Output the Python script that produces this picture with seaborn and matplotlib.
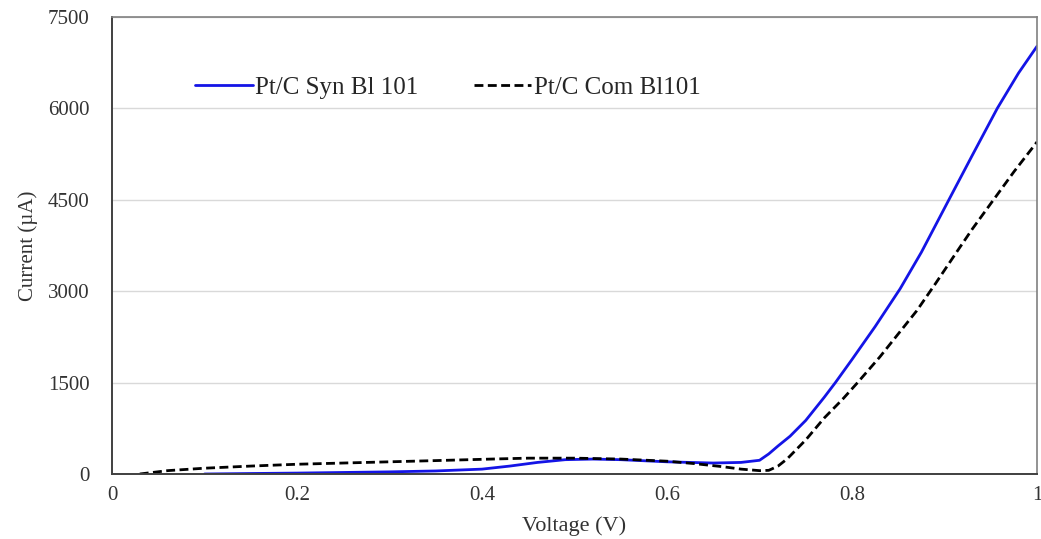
import numpy as np
import pandas as pd
import matplotlib
matplotlib.use("Agg")
import matplotlib.pyplot as plt
import seaborn as sns

# ---- data ----
syn_voltage = [0.10, 0.15, 0.20, 0.25, 0.30, 0.35, 0.40, 0.43, 0.46, 0.49, 0.52, 0.55,
               0.60, 0.65, 0.68, 0.70, 0.71, 0.72, 0.733, 0.75, 0.77, 0.782, 0.80,
               0.825, 0.852, 0.875, 0.904, 0.93, 0.957, 0.98, 1.00]
syn_current = [0, 8, 15, 25, 35, 50, 80, 130, 190, 235, 245, 235,
               200, 180, 190, 225, 330, 460, 620, 880, 1260, 1500, 1880,
               2420, 3040, 3640, 4480, 5230, 6000, 6580, 7020]

com_voltage = [0.03, 0.06, 0.10, 0.15, 0.20, 0.275, 0.35, 0.41, 0.45, 0.50, 0.55,
               0.60, 0.63, 0.66, 0.68, 0.70, 0.71, 0.72, 0.73, 0.75, 0.77, 0.79,
               0.806, 0.83, 0.85, 0.87, 0.89, 0.913, 0.93, 0.952, 0.975, 1.00]
com_current = [0, 55, 95, 130, 160, 190, 220, 245, 260, 260, 245,
               210, 170, 120, 80, 55, 60, 130, 250, 560, 920, 1230,
               1500, 1920, 2300, 2680, 3120, 3640, 4020, 4480, 4960, 5450]

series_labels = ["Pt/C Syn Bl 101", "Pt/C Com Bl101"]
x_ticks = [0, 0.2, 0.4, 0.6, 0.8, 1.0]
x_tick_labels = ["0", "0.2", "0.4", "0.6", "0.8", "1"]
y_ticks = [0, 1500, 3000, 4500, 6000, 7500]
x_label = "Voltage (V)"
y_label = "Current (\u00b5A)"

sns.set_theme(style="white")
plt.rcParams["font.family"] = ["Liberation Serif", "DejaVu Serif"]

df_syn = pd.DataFrame({"V": syn_voltage, "I": syn_current})
df_com = pd.DataFrame({"V": com_voltage, "I": com_current})

fig = plt.figure(figsize=(10.41, 5.39), dpi=100)
ax = fig.add_axes([0.1076, 0.1206, 0.8886, 0.8479])

ax.yaxis.grid(True, color="#d9d9d9", linewidth=1.0)
ax.set_axisbelow(True)

sns.lineplot(data=df_syn, x="V", y="I", ax=ax, color="#1414e6", linewidth=2.0,
             label=series_labels[0], sort=False)
sns.lineplot(data=df_com, x="V", y="I", ax=ax, color="black", linewidth=2.0,
             linestyle=(0, (3.2, 1.6)), label=series_labels[1], sort=False)

ax.set_xlim(0, 1)
ax.set_ylim(0, 7500)
ax.set_xticks(x_ticks)
ax.set_xticklabels(x_tick_labels)
ax.set_yticks(y_ticks)
ax.tick_params(axis="both", length=0, labelsize=15, colors="#333333")
ax.tick_params(axis="x", pad=9)
ax.tick_params(axis="y", pad=16)

ax.set_xlabel(x_label, fontsize=16, color="#333333", labelpad=8)
ax.set_ylabel(y_label, fontsize=15, color="#333333", labelpad=7)

for side in ["left", "bottom"]:
    ax.spines[side].set_color("#404040")
    ax.spines[side].set_linewidth(1.4)
for side in ["top", "right"]:
    ax.spines[side].set_color("#808080")
    ax.spines[side].set_linewidth(1.2)

ax.legend(loc="center left", bbox_to_anchor=(0.09, 0.845), ncol=2, frameon=False,
          fontsize=18, handlelength=2.3, handletextpad=0.1, columnspacing=2.2,
          borderaxespad=0, borderpad=0)

fig.savefig("out.png", dpi=100)
